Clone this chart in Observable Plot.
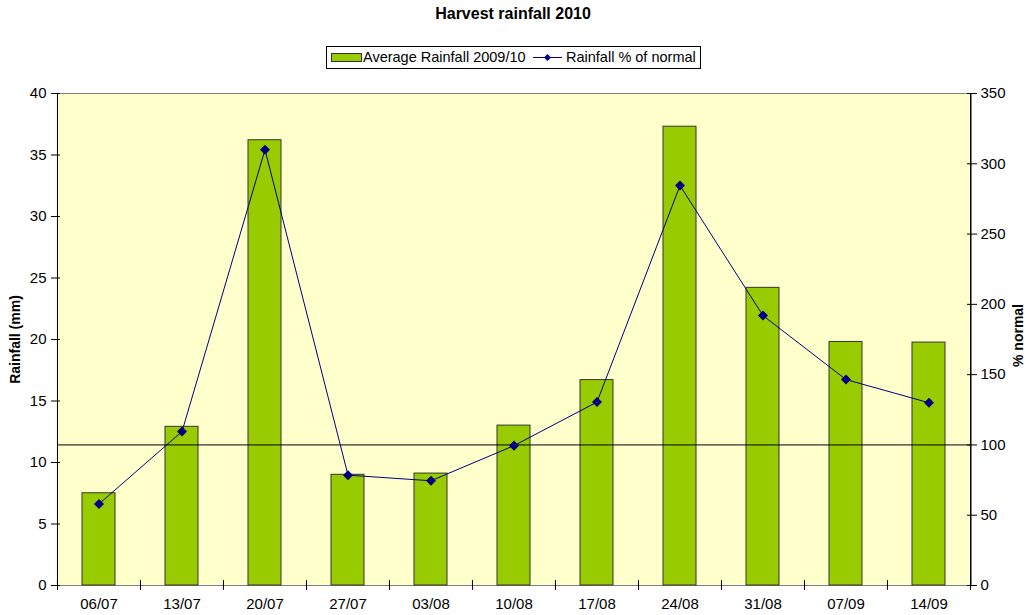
<!DOCTYPE html>
<html><head><meta charset="utf-8">
<script src="https://cdn.jsdelivr.net/npm/d3@7"></script>
<script src="https://cdn.jsdelivr.net/npm/@observablehq/plot@0.6"></script>
<style>
body{margin:0;background:#fff;font-family:"Liberation Sans",Arial,sans-serif;}
#wrap{position:relative;width:1026px;height:615px;}
#header{position:relative;height:80px;}
#title{position:absolute;top:5px;left:0;width:1026px;text-align:center;font-weight:bold;font-size:16px;}
#legend{position:absolute;left:326px;top:46px;width:373px;height:21px;border:1px solid #000;font-size:14.5px;white-space:nowrap;}
#legend > *{position:absolute;top:0;}
#legend span{line-height:21px;}
#chart svg{display:block;}
#chart g[aria-label$="tick label"], #chart g[aria-label$="tick label"] text{font-size:15px !important;}
</style></head>
<body>
<div id="wrap">
  <div id="header">
    <div id="title">Harvest rainfall 2010</div>
    <div id="legend">
      <svg width="36" height="21" style="left:0"><rect x="4.5" y="6.5" width="30" height="8" fill="#99CC00" stroke="#333"/></svg>
      <span style="left:36px">Average Rainfall 2009/10</span>
      <svg width="36" height="21" style="left:205px"><line x1="1" x2="30" y1="10.5" y2="10.5" stroke="#000080"/><path d="M15.5,7L19,10.5L15.5,14L12,10.5Z" fill="#000080"/></svg>
      <span style="left:239px">Rainfall % of normal</span>
    </div>
  </div>
  <div id="chart"></div>
</div>
<script>
const weeks = ["06/07","13/07","20/07","27/07","03/08","10/08","17/08","24/08","31/08","07/09","14/09"];
const rainfall = [7.5, 12.9, 36.2, 9.0, 9.1, 13.0, 16.7, 37.3, 24.2, 19.8, 19.75];
const pctNormal = [58, 109.5, 310, 78.5, 74.5, 99.5, 130.5, 284.5, 192, 146.5, 130];
const leftTicks = [0, 5, 10, 15, 20, 25, 30, 35, 40];
const rightTicks = [0, 50, 100, 150, 200, 250, 300, 350];
const normalLevel = 100;
const leftMax = 40, rightMax = 350;

const k = leftMax / rightMax;
const data = weeks.map((w, i) => ({week: w, rain: rainfall[i], pct: pctNormal[i] * k}));

const W = 1026, H = 535, mL = 57, mR = 55, mT = 13, mB = 30;
const step = (W - mL - mR) / weeks.length;

const chart = Plot.plot({
  width: W, height: H, marginTop: mT, marginBottom: mB, marginLeft: mL, marginRight: mR,
  style: {fontFamily: "Liberation Sans, Arial, sans-serif", fontSize: "14px", background: "transparent", color: "#000"},
  x: {domain: weeks, paddingInner: 0.6, paddingOuter: 0.3, axis: null},
  y: {domain: [0, leftMax], axis: null},
  marks: [
    Plot.frame({fill: "#FFFFCC", stroke: "#808080"}),
    Plot.ruleX([weeks[0]], {dx: -step / 2, stroke: "#000"}),
    Plot.ruleX([weeks[weeks.length - 1]], {dx: step / 2, stroke: "#000"}),
    Plot.barY(data, {x: "week", y: "rain", fill: "#99CC00", stroke: "#333", strokeWidth: 1}),
    Plot.ruleY([normalLevel * k], {stroke: "#000", strokeWidth: 1}),
    Plot.line(data, {x: "week", y: "pct", stroke: "#000080", strokeWidth: 1}),
    Plot.dot(data, {x: "week", y: "pct", symbol: "square", rotate: 45, r: 4, fill: "#000080", stroke: "none"}),
    Plot.axisY(leftTicks, {anchor: "left", tickSize: 6, tickPadding: 5, label: null, fontSize: 15}),
    Plot.axisY(leftTicks, {anchor: "left", tickSize: -3, label: null, tickFormat: () => ""}),
    Plot.axisY(rightTicks.map(v => v * k), {anchor: "right", tickSize: 5, tickPadding: 4, label: null, fontSize: 15, tickFormat: d => String(Math.round(d / k))}),
    Plot.axisY(rightTicks.map(v => v * k), {anchor: "right", tickSize: -5, label: null, tickFormat: () => ""}),
    Plot.axisX({tickSize: 0, tickPadding: 13, label: null, fontSize: 15}),
    Plot.ruleX(weeks, {dx: -step / 2, y1: 0.4, y2: -0.4, stroke: "#000"}),
    Plot.ruleX([weeks[weeks.length - 1]], {dx: step / 2, y1: 0.4, y2: -0.4, stroke: "#000"}),
    Plot.text(["Rainfall (mm)"], {frameAnchor: "left", dx: -42, rotate: -90, textAnchor: "middle", fontWeight: "bold", fontSize: 14}),
    Plot.text(["% normal"], {frameAnchor: "right", dx: 47, dy: -4, rotate: -90, textAnchor: "middle", fontWeight: "bold", fontSize: 14})
  ]
});
document.getElementById("chart").appendChild(chart);
</script>
</body></html>
